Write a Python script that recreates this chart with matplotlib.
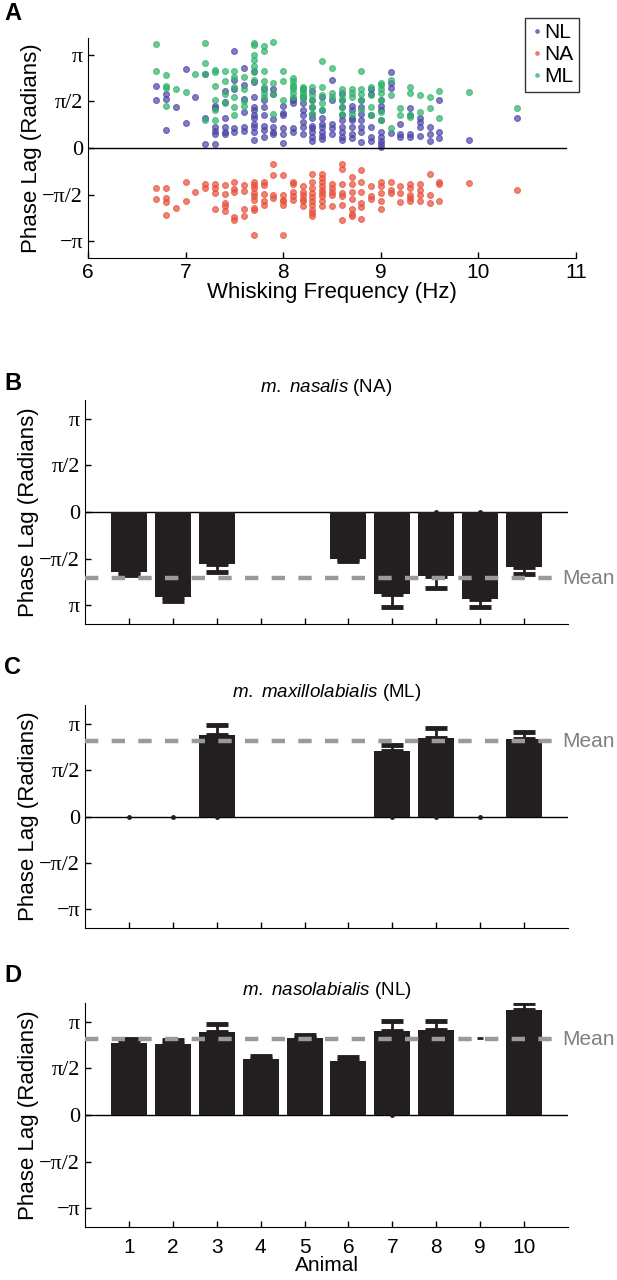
import numpy as np
import matplotlib
matplotlib.use('Agg')
import matplotlib.pyplot as plt

plt.rcParams['font.family'] = ['Liberation Sans', 'DejaVu Sans']
plt.rcParams['mathtext.fontset'] = 'custom'
plt.rcParams['mathtext.rm'] = 'Liberation Sans'
plt.rcParams['mathtext.it'] = 'Liberation Sans:italic'

# ---- panel A data: whisking frequency (Hz) and phase lag (in units of pi) ----
freqs = [6.7, 6.8, 6.9, 7.0, 7.1, 7.2, 7.3, 7.4, 7.5, 7.6, 7.7, 7.8, 7.9, 8.0, 8.1, 8.2,
         8.3, 8.4, 8.5, 8.6, 8.7, 8.8, 8.9, 9.0, 9.1, 9.2, 9.3, 9.4, 9.5, 9.6, 9.9, 10.4]

ml_phase = [
    [1.12, 0.83], [0.67, 0.64, 0.45, 0.78], [0.63], [0.60], [0.79],
    [1.13, 0.91, 0.79, 0.30], [0.84, 0.81, 0.67, 0.52, 0.41, 0.30], [0.83, 0.72, 0.58, 0.48],
    [0.83, 0.76, 0.65, 0.55, 0.44, 0.35], [0.76, 0.63, 0.50, 0.45],
    [1.13, 1.10, 1.00, 0.94, 0.88, 0.81, 0.73], [1.09, 1.04, 0.83, 0.72, 0.65, 0.59, 0.55],
    [1.14, 0.70, 0.58, 0.37], [0.83, 0.72, 0.52], [0.75, 0.72, 0.68, 0.65, 0.63, 0.59, 0.55],
    [0.65, 0.63, 0.60, 0.57, 0.53], [0.65, 0.57, 0.52, 0.44, 0.37], [0.93, 0.65, 0.57, 0.48, 0.41],
    [0.86, 0.59, 0.55], [0.63, 0.57, 0.52, 0.44, 0.36], [0.63, 0.59, 0.55, 0.37],
    [0.83, 0.63, 0.58, 0.52, 0.41], [0.65, 0.57, 0.44, 0.35], [0.70, 0.68, 0.63, 0.59, 0.52, 0.39, 0.30],
    [0.73, 0.57, 0.21], [0.43, 0.35], [0.65, 0.59, 0.35, 0.33], [0.57, 0.39], [0.55, 0.43],
    [0.61, 0.32], [0.60], [0.43]]

nl_phase = [
    [0.67, 0.51], [0.58, 0.53, 0.19], [0.44], [0.85, 0.27], [0.55],
    [0.79, 0.32, 0.04], [0.45, 0.43, 0.23, 0.18, 0.15, 0.04], [0.61, 0.49, 0.32, 0.23, 0.17, 0.15],
    [1.04, 0.73, 0.63, 0.21, 0.17], [0.86, 0.68, 0.53, 0.39, 0.23, 0.18],
    [0.83, 0.71, 0.55, 0.44, 0.41, 0.35, 0.32, 0.26, 0.22, 0.17, 0.09],
    [0.63, 0.52, 0.44, 0.35, 0.24, 0.19, 0.12], [0.63, 0.58, 0.31, 0.23, 0.17, 0.15],
    [0.45, 0.38, 0.35, 0.21, 0.15, 0.05], [0.53, 0.52, 0.48, 0.21, 0.17],
    [0.63, 0.55, 0.48, 0.41, 0.35, 0.28, 0.23, 0.15],
    [0.61, 0.52, 0.44, 0.37, 0.32, 0.24, 0.21, 0.17, 0.12, 0.08],
    [0.55, 0.41, 0.32, 0.26, 0.23, 0.17, 0.13, 0.10], [0.73, 0.52, 0.26, 0.21, 0.15],
    [0.59, 0.52, 0.44, 0.35, 0.30, 0.23, 0.17, 0.12, 0.09], [0.45, 0.41, 0.32, 0.30, 0.23, 0.15, 0.11],
    [0.52, 0.44, 0.37, 0.30, 0.23, 0.17, 0.06], [0.63, 0.58, 0.35, 0.23, 0.12, 0.08],
    [0.52, 0.45, 0.41, 0.30, 0.17, 0.12, 0.08, 0.04, 0.01], [0.81, 0.70, 0.64, 0.16],
    [0.26, 0.15, 0.12], [0.43, 0.35, 0.15, 0.12], [0.32, 0.28, 0.23, 0.13], [0.23, 0.15, 0.08],
    [0.52, 0.17, 0.11], [0.09], [0.32]]

na_phase = [
    [-0.43, -0.55], [-0.43, -0.54, -0.58, -0.72], [-0.64], [-0.36, -0.57], [-0.47],
    [-0.39, -0.43], [-0.39, -0.43, -0.48, -0.65], [-0.40, -0.49, -0.59, -0.62, -0.68],
    [-0.36, -0.44, -0.47, -0.74, -0.77], [-0.40, -0.46, -0.65, -0.73],
    [-0.37, -0.40, -0.43, -0.48, -0.52, -0.56, -0.64, -0.67, -0.93],
    [-0.37, -0.40, -0.49, -0.57, -0.61], [-0.17, -0.29, -0.50, -0.54],
    [-0.29, -0.50, -0.56, -0.57, -0.61, -0.93], [-0.37, -0.39, -0.47, -0.52, -0.56],
    [-0.41, -0.47, -0.50, -0.55, -0.57, -0.62],
    [-0.28, -0.37, -0.43, -0.48, -0.53, -0.57, -0.61, -0.67, -0.70, -0.73],
    [-0.28, -0.32, -0.37, -0.41, -0.45, -0.48, -0.52, -0.57, -0.62],
    [-0.39, -0.43, -0.47, -0.50, -0.62], [-0.17, -0.23, -0.39, -0.48, -0.52, -0.61, -0.77],
    [-0.31, -0.39, -0.47, -0.55, -0.65, -0.71, -0.73], [-0.24, -0.36, -0.47, -0.59, -0.63, -0.76],
    [-0.41, -0.52, -0.55], [-0.36, -0.41, -0.48, -0.57, -0.65], [-0.37, -0.45, -0.48],
    [-0.41, -0.48, -0.58], [-0.39, -0.43, -0.50, -0.54, -0.57], [-0.39, -0.45, -0.50, -0.57],
    [-0.28, -0.50, -0.59], [-0.37, -0.39, -0.57], [-0.38], [-0.45]]

# ---- panels B-D: mean phase lag per animal (units of pi) and error ----
animals = [1, 2, 3, 4, 5, 6, 7, 8, 9, 10]
nan = np.nan
na_mean = [-0.64, -0.91, -0.56, nan, nan, -0.50, -0.88, -0.69, -0.93, -0.59]
na_err = [0.04, 0.04, 0.08, nan, nan, 0.03, 0.14, 0.12, 0.09, 0.07]
ml_mean = [nan, nan, 0.875, nan, nan, nan, 0.71, 0.84, nan, 0.83]
ml_err = [nan, nan, 0.115, nan, nan, nan, 0.06, 0.11, nan, 0.08]
nl_mean = [0.77, 0.76, 0.89, 0.60, 0.82, 0.58, 0.90, 0.91, nan, 1.13]
nl_err = [0.04, 0.04, 0.08, 0.03, 0.04, 0.04, 0.11, 0.10, nan, 0.07]
grand_mean = {'NA': -0.71, 'ML': 0.81, 'NL': 0.81}
# stray zero-points drawn in the original
na_dots = [8, 9]
ml_dots = [1, 2, 3, 7, 8, 9]
nl_dots = [7]

c_nl = '#4b46a8'
c_na = '#e8503a'
c_ml = '#2fb36a'
bar_c = '#231f20'

W, H = 617, 1280
fig = plt.figure(figsize=(W / 100, H / 100), dpi=100)


def px_axes(l, t, r, b):
    return fig.add_axes([l / W, 1 - b / H, (r - l) / W, (b - t) / H])


def style(ax):
    ax.spines['top'].set_visible(False)
    ax.spines['right'].set_visible(False)
    ax.tick_params(direction='in', length=4, width=1, labelsize=15)
    ax.set_yticks(np.array([1, 0.5, 0, -0.5, -1]) * np.pi)


serif = 'Liberation Serif'
ytl = ['π', 'π/2', '0', '−π/2', '−π']

# ---- Panel A ----
ax = px_axes(88, 38, 576, 258)
style(ax)
for name, ph, col in [('NL', nl_phase, c_nl), ('NA', na_phase, c_na), ('ML', ml_phase, c_ml)]:
    xs = [f for f, vals in zip(freqs, ph) for _ in vals]
    ys = [v * np.pi for vals in ph for v in vals]
    ax.scatter(xs, ys, s=18, facecolor=col, edgecolor=col, alpha=0.7, linewidth=0.8, label=name)
ax.axhline(0, color='black', lw=1, xmax=0.98)
ax.set_xlim(6, 11)
ax.set_ylim(-1.18 * np.pi, 1.18 * np.pi)
ax.set_yticklabels(ytl, fontfamily=serif, fontsize=16)
ax.set_xlabel('Whisking Frequency (Hz)', fontsize=16, labelpad=0)
ax.set_ylabel('Phase Lag (Radians)', fontsize=16, labelpad=0)
ax.legend(loc='upper right', bbox_to_anchor=(579 / W, 1 - 18 / H), bbox_transform=fig.transFigure,
          fontsize=15, frameon=True, fancybox=False, edgecolor='black', handletextpad=0.0,
          handlelength=0.7, borderpad=0.25, labelspacing=0.15, markerscale=0.6,
          borderaxespad=0, scatteryoffsets=[0.5]).get_frame().set_linewidth(1)
fig.text(4 / W, 1 - 13 / H, 'A', fontsize=17, fontweight='bold', va='center')


def bar_panel(top, bottom, means, errs, mean_val, dots, title, letter, letter_y, bottom_label, xlab):
    ax = px_axes(85, top, 568, bottom)
    style(ax)
    m = np.array(means) * np.pi
    e = np.array(errs) * np.pi
    ax.bar(animals, m, width=0.82, color=bar_c, zorder=2)
    lower = np.where(m < 0, e, 0)
    upper = np.where(m > 0, e, 0)
    ax.errorbar(animals, m, yerr=[lower, upper], fmt='none', ecolor=bar_c, elinewidth=2,
                capsize=8, capthick=3.5, zorder=2)
    ax.plot(dots, np.zeros(len(dots)), 'o', color=bar_c, ms=2.5, zorder=3)
    ax.axhline(0, color='black', lw=1, zorder=1)
    ax.axhline(mean_val * np.pi, color='#9a9a9a', lw=3.2, dashes=(3, 3), zorder=4, xmax=0.978)
    ax.text(10.86, mean_val * np.pi, 'Mean', color='#808080', fontsize=15, va='center', ha='left')
    ax.set_xlim(0, 11)
    ax.set_ylim(-1.2 * np.pi, 1.2 * np.pi)
    ax.set_xticks(animals)
    labels = list(ytl)
    labels[-1] = bottom_label
    ax.set_yticklabels(labels, fontfamily=serif, fontsize=16)
    ax.set_ylabel('Phase Lag (Radians)', fontsize=16, labelpad=0)
    ax.set_title(title, fontsize=13.5, pad=6)
    if xlab:
        ax.tick_params(axis='x', pad=8)
        ax.set_xlabel('Animal', fontsize=15, labelpad=-1)
    else:
        ax.set_xticklabels([])
    fig.text(4 / W, 1 - letter_y / H, letter, fontsize=17, fontweight='bold', va='center')
    return ax


bar_panel(400, 624, na_mean, na_err, grand_mean['NA'], na_dots,
          r'$\mathit{m.\ nasalis}$ (NA)', 'B', 383, 'π', False)
bar_panel(705, 928, ml_mean, ml_err, grand_mean['ML'], ml_dots,
          r'$\mathit{m.\ maxillolabialis}$ (ML)', 'C', 668, '−π', False)
axd = bar_panel(1003, 1227, nl_mean, nl_err, grand_mean['NL'], nl_dots,
                r'$\mathit{m.\ nasolabialis}$ (NL)', 'D', 975, '−π', True)
axd.plot([9], [0.83 * np.pi], '_', color=bar_c, ms=4, mew=2)

fig.savefig('out.png', dpi=100)
